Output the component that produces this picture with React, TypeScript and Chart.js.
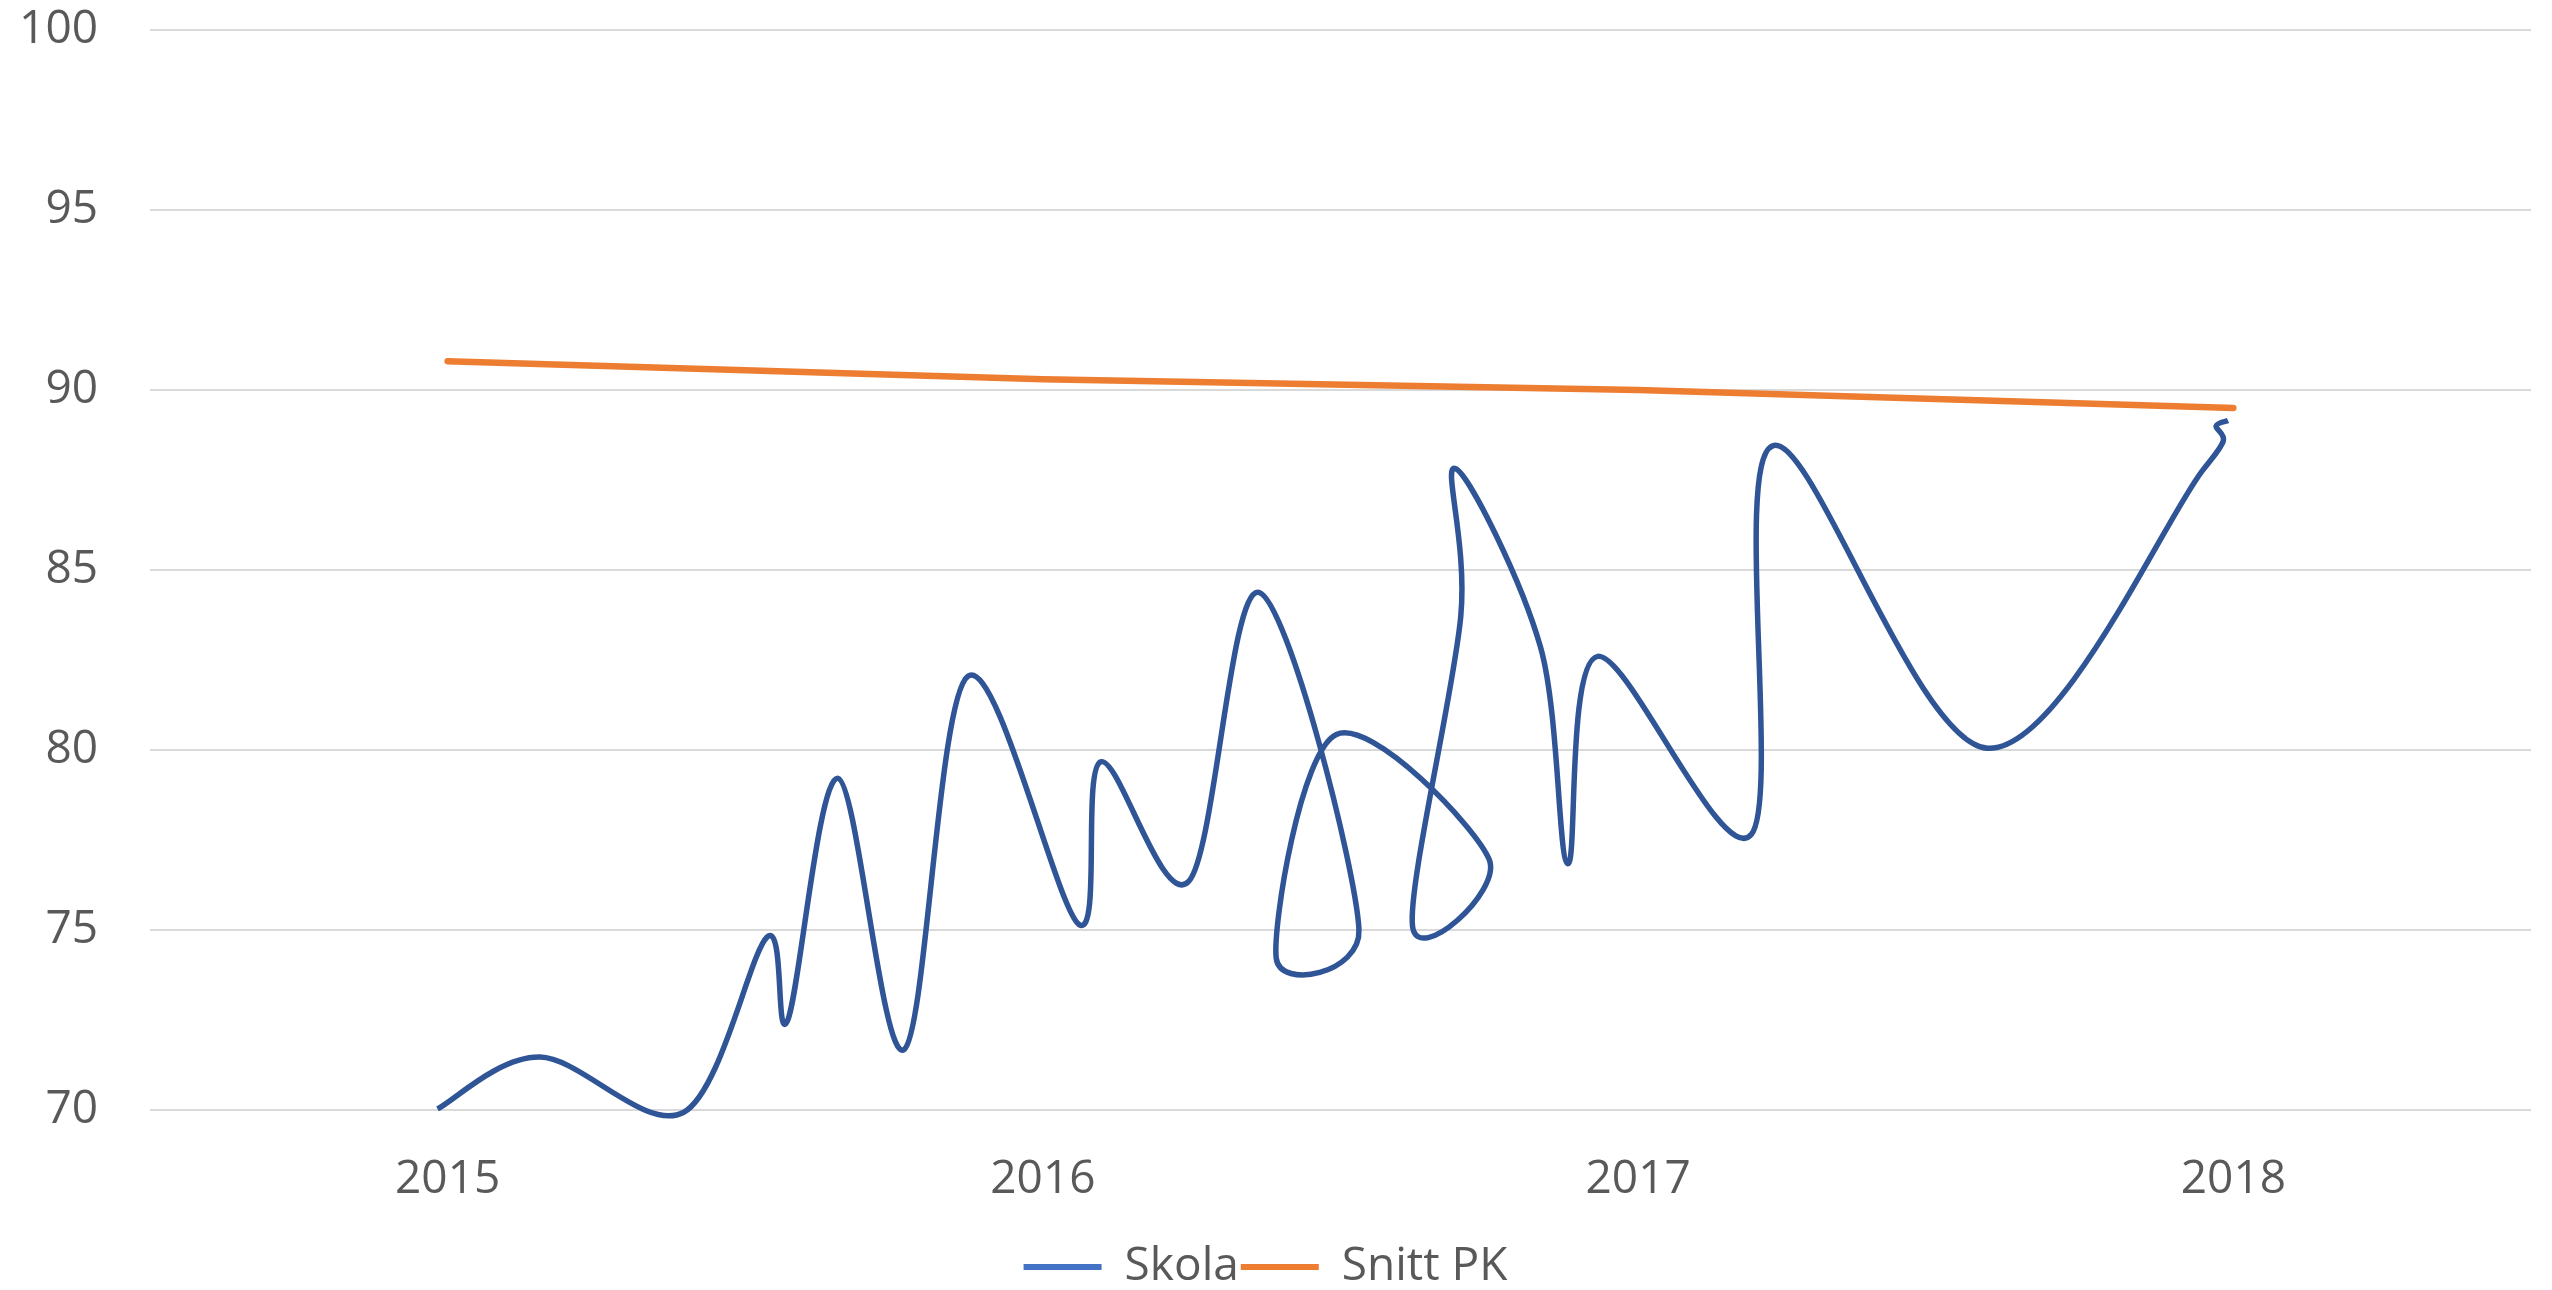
import React, { useEffect, useRef } from "react";
import { Chart, registerables } from "chart.js";

Chart.register(...registerables);

// Skola (scatter with smoothed line, x in decimal years)
const skolaX = [
  2014.983, 2015.155, 2015.396, 2015.537, 2015.571, 2015.656, 2015.767, 2015.874,
  2016.061, 2016.097, 2016.245, 2016.363, 2016.531, 2016.392, 2016.493, 2016.75,
  2016.621, 2016.702, 2016.693, 2016.836, 2016.882, 2016.932, 2017.19, 2017.226,
  2017.587, 2017.948, 2017.983, 2017.971, 2017.991,
];
const skolaY = [
  70.03, 71.47, 69.93, 74.81, 72.48, 79.21, 71.68, 82.05,
  75.15, 79.67, 76.35, 84.38, 75.01, 74.22, 80.43, 76.95,
  75.1, 83.7, 87.82, 82.86, 76.84, 82.6, 77.65, 88.45,
  80.05, 87.76, 88.58, 89.0, 89.15,
];

// Snitt PK
const snittX = [2015, 2016, 2017, 2018];
const snittY = [90.8, 90.3, 90.0, 89.5];

const xTicks = [2015, 2016, 2017, 2018];
const seriesNames = ["Skola", "Snitt PK"];

const FONT = "'Open Sans', 'Liberation Sans', sans-serif";
const TEXT = "#595959";

// Excel-like smoothing: Bezier control points at 1/6 of neighbour chord, capped at half segment.
const excelSmooth = {
  id: "excelSmooth",
  beforeDatasetDraw(chart: any, args: any) {
    const ds = chart.data.datasets[args.index];
    if (!ds || !ds.excelSmooth) return;
    const meta = args.meta;
    const pts = meta.data as any[];
    const n = pts.length;
    if (n < 2) return;
    const P = (i: number) => pts[Math.max(0, Math.min(n - 1, i))];
    for (let i = 0; i < n - 1; i++) {
      const p0 = P(i - 1), p1 = P(i), p2 = P(i + 1), p3 = P(i + 2);
      const d12 = Math.hypot(p2.x - p1.x, p2.y - p1.y);
      const ax = p2.x - p0.x, ay = p2.y - p0.y;
      const d02 = Math.hypot(ax, ay);
      let f1 = 1 / 6;
      if (d02 > 0 && d02 * f1 > d12 / 2) f1 = d12 / 2 / d02;
      const bx = p3.x - p1.x, by = p3.y - p1.y;
      const d13 = Math.hypot(bx, by);
      let f2 = 1 / 6;
      if (d13 > 0 && d13 * f2 > d12 / 2) f2 = d12 / 2 / d13;
      p1.cp2x = p1.x + ax * f1;
      p1.cp2y = p1.y + ay * f1;
      p2.cp1x = p2.x - bx * f2;
      p2.cp1y = p2.y - by * f2;
    }
    pts[0].cp1x = pts[0].x; pts[0].cp1y = pts[0].y;
    pts[n - 1].cp2x = pts[n - 1].x; pts[n - 1].cp2y = pts[n - 1].y;
    meta.dataset._pointsUpdated = true;
    meta.dataset._path = undefined;
  },
};

export default function App() {
  const ref = useRef<HTMLCanvasElement | null>(null);

  useEffect(() => {
    if (!ref.current) return;
    const font = { family: FONT, size: 46 };
    const chart = new Chart(ref.current, {
      type: "line",
      data: {
        datasets: [
          {
            label: seriesNames[0],
            data: skolaX.map((x, i) => ({ x, y: skolaY[i] })),
            borderColor: "#2F5597",
            backgroundColor: "#4472C4",
            borderWidth: 5.5,
            pointRadius: 0,
            tension: 0.3,
            borderCapStyle: "butt",
            borderJoinStyle: "round",
            fill: false,
            clip: false,
            excelSmooth: true,
          } as any,
          {
            label: seriesNames[1],
            data: snittX.map((x, i) => ({ x, y: snittY[i] })),
            borderColor: "#ED7D31",
            backgroundColor: "#ED7D31",
            borderWidth: 6.5,
            pointRadius: 0,
            tension: 0,
            borderCapStyle: "round",
            fill: false,
            clip: false,
          } as any,
        ],
      },
      options: {
        responsive: true,
        maintainAspectRatio: false,
        animation: false,
        layout: { padding: { left: 0, right: 21, top: 30, bottom: -10 } },
        scales: {
          x: {
            type: "linear",
            min: 2014.5,
            max: 2018.5,
            afterBuildTicks: (s: any) => {
              s.ticks = xTicks.map((v) => ({ value: v }));
            },
            afterFit: (s: any) => {
              s.height = 132;
              s.paddingTop = 0;
            },
            grid: { display: false },
            border: { display: false },
            ticks: {
              font,
              color: TEXT,
              padding: 34,
              callback: (v: any) => String(v),
            },
          },
          y: {
            min: 70,
            max: 100,
            ticks: { stepSize: 5, padding: 52, font, color: TEXT },
            grid: { color: "#d9d9d9", lineWidth: 2, drawTicks: false },
            border: { display: false },
            afterFit: (s: any) => {
              s.width = 150;
              s.paddingTop = 0;
              s.paddingBottom = 0;
            },
          },
        },
        plugins: {
          tooltip: { enabled: false },
          legend: {
            position: "bottom",
            labels: {
              font: { family: FONT, size: 46, lineHeight: 1.0 },
              color: TEXT,
              boxWidth: 78,
              boxHeight: 6,
              padding: 2,
              generateLabels: () => [
                { text: seriesNames[0], fillStyle: "#4472C4", strokeStyle: "#4472C4", lineWidth: 0, datasetIndex: 0, fontColor: TEXT },
                { text: seriesNames[1], fillStyle: "#ED7D31", strokeStyle: "#ED7D31", lineWidth: 0, datasetIndex: 1, fontColor: TEXT },
              ] as any,
            },
          },
        },
      } as any,
      plugins: [excelSmooth],
    });
    return () => chart.destroy();
  }, []);

  return (
    <div style={{ position: "absolute", left: 0, top: 0, width: "2552px", height: "1290px", background: "#fff" }}>
      <canvas ref={ref} />
    </div>
  );
}
